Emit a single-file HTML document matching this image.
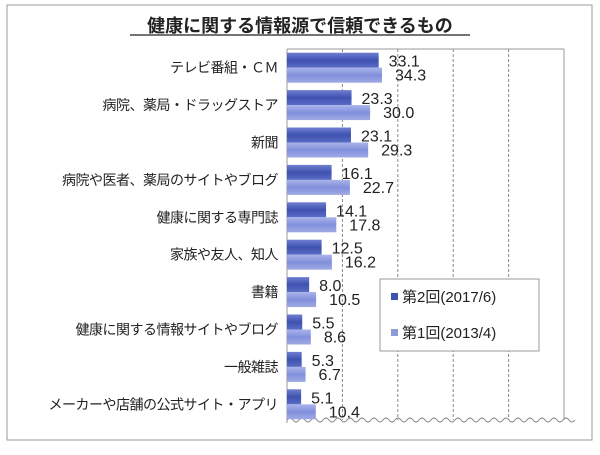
<!DOCTYPE html>
<html><head><meta charset="utf-8">
<style>
body{margin:0;background:#fff;}
svg text{font-family:"Liberation Sans","Noto Sans CJK JP",sans-serif;}
</style></head>
<body>
<svg id="chart" width="600" height="450" xmlns="http://www.w3.org/2000/svg">
<defs>
<linearGradient id="g2" x1="0" y1="0" x2="0" y2="1"><stop offset="0" stop-color="#6f7fd0"/><stop offset="0.5" stop-color="#3e52b0"/><stop offset="1" stop-color="#5a6cc4"/></linearGradient>
<linearGradient id="g1" x1="0" y1="0" x2="0" y2="1"><stop offset="0" stop-color="#aab4ea"/><stop offset="0.5" stop-color="#8190dc"/><stop offset="1" stop-color="#a0aae4"/></linearGradient>
</defs>
<rect x="7" y="5" width="585" height="435" fill="#fff" stroke="#9a9a9a" stroke-width="1"/>
<text x="300" y="32" text-anchor="middle" font-size="18" font-weight="bold" fill="#222">健康に関する情報源で信頼できるもの</text>
<line x1="130" y1="35" x2="470" y2="35" stroke="#222" stroke-width="1.2"/>
<g id="grid"></g>
<g id="bars"></g>
<g id="legend">
<rect x="380" y="279" width="159" height="72" fill="#fff" stroke="#999"/>
<rect x="391" y="293" width="7" height="7" fill="#3e52b0"/>
<text x="402" y="302" font-size="15" fill="#222">第2回(2017/6)</text>
<rect x="391" y="329" width="7" height="7" fill="#8c9ad8"/>
<text x="402" y="338" font-size="15" fill="#222">第1回(2013/4)</text>
</g>
</svg>
<script>
const categories=["テレビ番組・ＣＭ","病院、薬局・ドラッグストア","新聞","病院や医者、薬局のサイトやブログ","健康に関する専門誌","家族や友人、知人","書籍","健康に関する情報サイトやブログ","一般雑誌","メーカーや店舗の公式サイト・アプリ"];
const series2017=[33.1,23.3,23.1,16.1,14.1,12.5,8.0,5.5,5.3,5.1];
const series2013=[34.3,30.0,29.3,22.7,17.8,16.2,10.5,8.6,6.7,10.4];
const ticks=[0,20,40,60,80,100];
const NS="http://www.w3.org/2000/svg";
const PL=287,PR=564,PT=49,PB=423;
const xs=v=>PL+(PR-PL)*v/100;
const rowH=(PB-PT)/categories.length;
const gridG=document.getElementById('grid'),barsG=document.getElementById('bars');
function mk(tag,attrs,parent){const e=document.createElementNS(NS,tag);for(const k in attrs)e.setAttribute(k,attrs[k]);parent.appendChild(e);return e;}
ticks.forEach((t,i)=>{
  if(i===0)return;
  const last=i===ticks.length-1;
  const l=mk('line',{x1:xs(t),x2:xs(t),y1:PT,y2:PB-3,stroke:last?'#999':'#888','stroke-dasharray':last?'none':'3,2'},gridG);
  
  
});
const ax=mk('line',{x1:PL,x2:PL,y1:PT,y2:PB,stroke:'#999'},gridG);


const topB=mk('line',{x1:PL,x2:PR,y1:PT,y2:PT,stroke:'#999'},gridG);


let d='M'+PL+' '+(PB-3);
for(let x=PL;x<PR;x+=12){d+=' Q'+(x+3)+' '+(PB-7)+' '+(x+6)+' '+(PB-3)+' T'+(x+12)+' '+(PB-3);}
const wave=mk('path',{d:d,fill:'none',stroke:'#888'},gridG);


categories.forEach((c,i)=>{
  const cy=PT+rowH*(i+0.5);
  const lab=mk('text',{x:278,y:cy+5,'text-anchor':'end','font-size':14,'letter-spacing':'-0.5',fill:'#222'},barsG);
  lab.textContent=c;
  
  
  const b2=mk('rect',{x:PL,y:cy-15,width:xs(series2017[i])-PL,height:15,fill:'url(#g2)'},barsG);
  
  
  const b1=mk('rect',{x:PL,y:cy,width:xs(series2013[i])-PL,height:15,fill:'url(#g1)'},barsG);
  
  
  const v2=mk('text',{x:xs(series2017[i])+10,y:cy-1,'font-size':16,fill:'#222'},barsG);
  v2.textContent=series2017[i].toFixed(1);
  
  
  const v1=mk('text',{x:xs(series2013[i])+13,y:cy+13,'font-size':16,fill:'#222'},barsG);
  v1.textContent=series2013[i].toFixed(1);
  
  
});
</script>
</body></html>
